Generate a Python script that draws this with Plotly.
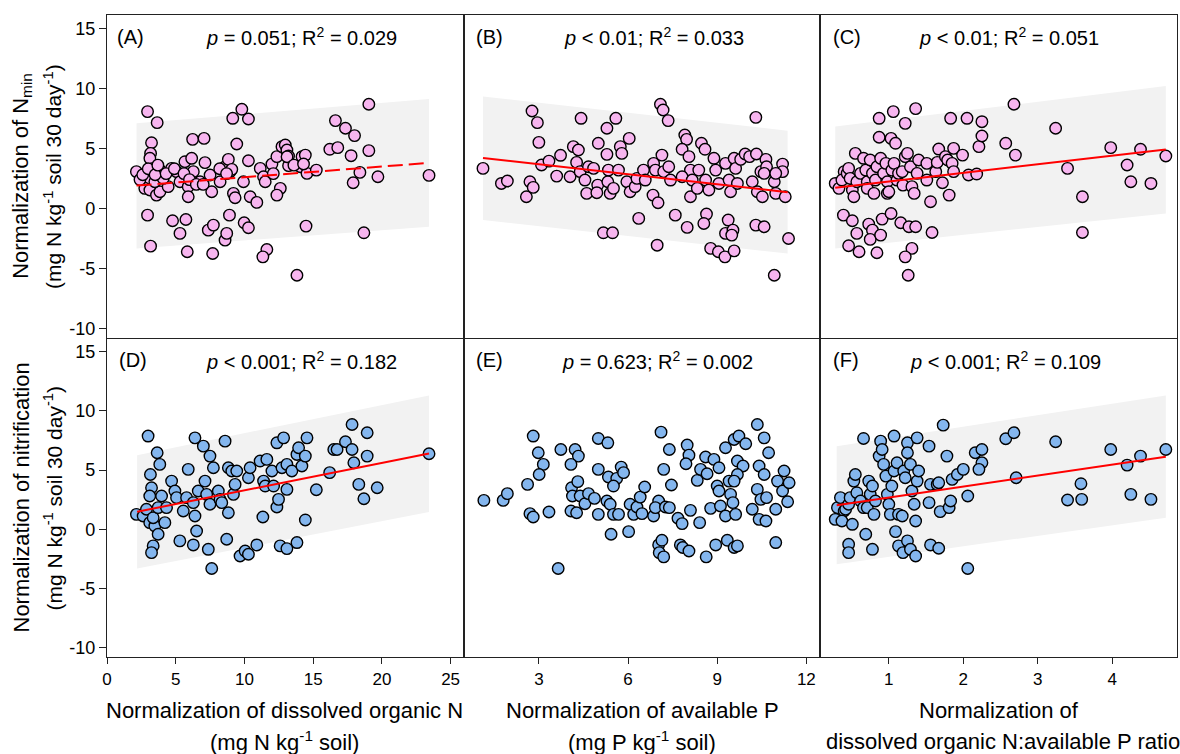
import plotly.graph_objects as go
from plotly.subplots import make_subplots

# ---------------- data ----------------
# Panel A: Nmin vs DON
a_x = [2.95,3.65,3.24,3.17,3.12,2.14,2.87,3.36,3.85,3.12,2.75,3.12,3.6,3.85,4.45,3.48,4.09,4.7,5.06,5.31,
       5.67,6.16,6.28,5.91,5.91,6.77,7.13,7.5,7.62,8.23,8.59,8.96,8.83,9.08,9.2,9.32,9.44,9.15,9.81,10.29,
       10.29,9.93,10.42,10.9,11.15,11.39,11.51,12.0,12.36,12.73,12.97,13.09,13.21,13.21,12.61,12.36,14.07,14.19,14.43,14.55,
       15.23,6.23,7.06,2.95,4.77,5.74,5.31,3.17,5.84,7.37,7.74,7.69,8.59,8.71,8.91,9.98,10.29,11.63,11.34,13.82,
       14.48,16.21,16.79,16.62,17.35,18.01,17.76,19.05,19.05,18.4,17.91,19.71,18.69,23.43,
       2.4,2.6,3.0,3.5,3.7,4.3,4.9,5.6,6.0,6.5,7.0,8.2,8.7,12.1,13.1,13.6,14.3]
a_y = [8.06,7.14,5.47,4.58,4.17,3.06,2.92,3.33,3.19,2.5,1.67,1.53,1.11,1.39,1.81,2.22,2.5,3.33,3.06,2.22,
       3.89,4.17,3.06,1.81,0.97,2.22,3.81,2.78,1.39,2.22,3.47,3.06,4.08,3.25,1.25,0.89,5.36,7.5,8.25,7.44,
       3.97,2.22,0.97,0.5,3.33,2.64,2.22,3.69,4.31,5.14,5.28,4.86,4.36,3.56,1.67,1.11,3.47,4.31,4.44,2.92,
       3.19,5.75,5.83,-0.56,-1.03,-0.92,-2.08,-3.14,-3.61,-1.81,-1.39,-3.75,-2.64,-2.08,-0.56,-1.19,-1.61,-3.42,-4.03,-5.56,
       -1.47,4.92,5.06,7.31,6.67,6.06,4.39,4.81,8.67,3.0,2.14,2.64,-2.03,2.75,
       2.4,2.8,3.3,2.8,3.6,2.9,3.3,2.9,2.4,2.0,2.0,3.3,2.9,2.9,4.3,3.6,3.7]

# Panel B: Nmin vs available P
b_x = [1.12,1.74,1.94,2.58,2.7,2.81,2.77,2.95,3.0,3.09,3.34,3.6,3.73,4.05,4.16,4.33,4.27,4.39,4.55,4.61,
       4.67,4.84,5.0,4.98,4.95,4.42,5.29,5.59,5.29,5.34,5.32,5.4,5.51,5.68,5.74,5.79,6.04,5.96,6.07,6.24,
       6.3,6.52,6.58,6.86,6.92,6.84,7.01,7.14,7.2,7.37,7.43,7.09,7.18,7.35,7.91,7.97,7.82,8.05,8.1,7.82,
       8.16,8.1,8.38,8.47,8.59,8.61,8.72,8.33,8.89,8.95,9.06,9.28,9.4,9.45,9.57,9.62,9.68,9.79,9.94,10.09,
       10.18,10.32,10.35,10.47,10.52,10.64,10.66,10.58,10.92,10.97,11.2,11.2,11.29,10.97,10.3,6.36,5.17,5.48,6.98,7.59,
       7.99,8.64,8.55,9.37,9.28,9.53,9.49,10.3,10.58,8.78,9.04,9.26,9.57,11.4,10.92]
b_y = [3.33,2.08,2.28,0.97,2.22,1.75,8.11,7.14,5.5,3.61,3.94,2.69,4.42,2.64,5.14,4.86,3.83,3.06,2.36,1.25,
       3.47,3.33,5.42,1.94,1.31,7.5,6.67,7.5,4.5,3.19,2.22,1.25,1.67,3.19,5.14,4.58,5.83,2.22,1.39,1.81,
       2.5,3.19,2.36,3.75,3.19,1.11,0.47,4.44,3.06,3.47,2.36,8.67,8.19,7.31,6.11,5.75,4.92,4.31,3.19,2.64,
       2.36,0.97,3.19,5.42,4.92,2.36,1.53,1.67,4.17,3.19,2.08,3.75,2.36,1.39,4.17,3.33,2.08,4.08,4.53,4.31,
       2.22,4.53,1.39,3.06,0.97,4.08,3.47,2.92,2.22,1.25,3.69,3.06,0.97,2.92,7.58,-0.83,-2.03,-2.03,-3.06,-0.56,
       -1.58,-0.47,-1.25,-0.97,-2.08,-1.81,-2.22,-1.39,-1.53,-3.33,-3.61,-4.03,-3.53,-2.5,-5.56]

# Panel C: Nmin vs DON:AP ratio
c_x = [0.28,0.33,0.4,0.37,0.44,0.46,0.48,0.51,0.53,0.55,0.57,0.62,0.66,0.69,0.71,0.71,0.75,0.78,0.8,0.82,
       0.84,0.89,0.93,0.96,0.98,0.98,1.0,1.04,1.07,1.11,1.13,1.18,1.19,1.22,1.25,1.29,1.31,1.34,1.38,1.4,
       1.51,1.51,1.56,1.63,1.65,1.67,1.72,1.76,1.79,1.81,1.85,1.87,1.87,1.99,2.07,2.18,2.21,2.25,2.25,1.83,
       2.05,2.57,2.7,2.68,3.24,3.4,3.98,4.2,4.38,4.72,4.25,4.52,3.6,3.6,0.87,1.06,1.36,1.22,0.87,1.03,
       1.09,0.39,0.51,0.57,0.46,0.6,0.73,0.78,0.75,0.89,0.84,0.91,1.03,1.16,1.27,1.36,1.31,1.22,1.26,1.58]
c_y = [2.08,1.67,3.06,2.36,2.92,3.33,2.5,1.53,0.97,4.58,2.22,2.92,4.17,3.19,2.22,1.67,4.03,2.92,1.25,2.36,
       3.47,4.17,2.92,3.75,2.22,1.25,1.39,3.19,3.75,2.36,2.92,3.06,1.94,4.31,4.58,3.47,1.81,1.25,2.92,4.03,
       3.75,2.36,0.56,3.06,3.83,4.94,2.14,4.31,4.03,1.11,3.75,5.0,3.06,4.44,2.78,2.86,5.14,6.03,7.22,7.5,
       7.5,5.42,4.44,8.67,6.67,3.33,5.06,3.61,4.92,4.36,2.22,2.08,0.97,-2.0,7.5,8.06,8.31,7.08,5.92,5.83,
       5.42,-0.56,-1.03,-2.08,-3.11,-3.61,-1.31,-1.81,-2.58,-2.22,-3.69,-0.89,-0.42,-1.19,-1.53,-1.53,-3.33,-4.03,-5.56,-2.0]

# Panel D: nitrification vs DON
d_x = [2.99,3.65,3.84,3.16,3.24,3.11,2.14,2.63,2.87,3.11,3.48,3.36,3.72,3.97,4.21,3.72,3.36,3.24,4.33,4.7,
       4.94,5.06,5.55,5.79,5.91,6.28,6.4,6.52,5.3,6.28,6.64,6.4,7.01,7.13,7.49,7.74,7.25,7.49,7.37,7.62,
       8.1,8.22,8.35,8.59,8.71,8.83,8.83,9.08,9.2,9.32,9.44,9.68,10.05,10.29,10.9,10.29,10.41,11.14,11.63,11.39,
       11.51,12.0,12.12,12.36,12.36,12.48,12.73,12.85,13.09,13.09,13.45,13.82,13.94,14.18,14.43,14.55,14.43,12.6,13.09,13.82,
       11.34,15.23,16.2,16.5,16.74,17.35,17.83,17.96,17.83,18.93,18.93,18.32,18.69,19.66,23.43]
d_y = [7.87,6.46,5.48,4.63,3.51,2.81,1.26,1.12,1.69,0.56,0.28,0.98,1.83,2.81,0.56,-0.42,-1.4,-1.97,1.83,4.07,
       3.23,2.67,1.54,2.67,5.06,2.25,1.12,-0.14,-0.98,-1.32,3.23,7.72,7.02,4.07,6.18,5.2,2.95,2.11,-1.69,-3.31,
       3.23,2.53,2.25,7.44,-0.84,1.4,5.2,4.92,2.95,3.79,4.92,-2.25,-1.83,-2.11,-1.32,4.35,5.2,5.76,5.9,4.07,
       3.65,4.92,3.65,1.88,7.3,2.53,5.2,7.72,3.37,5.48,4.92,6.32,6.88,5.34,6.18,7.72,0.79,-1.4,-1.63,-1.12,
       1.04,3.34,4.78,6.74,6.74,7.39,6.74,5.62,8.85,8.15,6.18,3.79,2.58,3.51,6.38]

# Panel E: nitrification vs available P
e_x = [1.15,1.8,1.94,2.62,2.7,2.81,3.34,2.81,2.98,3.15,3.01,3.74,4.22,4.33,4.08,4.1,4.31,4.13,4.39,4.55,
       4.67,4.87,4.08,4.27,5.0,5.0,5.32,5.0,5.34,5.62,5.77,5.85,5.51,5.29,5.4,5.51,5.68,5.43,6.02,6.07,
       6.19,6.3,6.41,6.56,6.47,6.86,7.03,6.92,7.26,7.39,7.46,7.11,7.39,7.2,7.68,7.82,7.99,8.05,7.95,8.1,
       8.41,8.33,8.44,8.61,8.66,8.89,9.06,8.78,9.0,9.06,9.11,9.28,9.28,9.4,9.45,9.53,9.62,9.57,9.68,9.73,
       9.96,9.87,9.68,9.57,10.18,10.35,10.58,10.41,10.35,10.47,10.41,10.64,10.58,10.66,10.73,10.97,11.03,11.25,11.2,11.42,
       11.37,7.03,7.14,7.05,7.2,7.76,7.84,8.05,8.63,8.95,9.34,9.57,9.68,10.97,3.65]
e_y = [2.44,2.44,3.01,3.79,1.32,1.04,1.46,7.87,6.46,5.48,4.63,6.74,6.74,6.18,5.48,3.51,4.02,2.81,2.81,2.16,
       3.01,2.61,1.54,1.4,1.26,7.67,7.3,5.06,4.41,4.3,5.25,4.78,3.65,2.39,2.11,1.26,1.26,-0.42,-0.2,2.11,
       1.26,1.88,2.72,3.57,1.32,1.12,2.39,1.83,1.88,1.83,3.74,8.2,6.74,5.06,0.93,0.48,7.11,6.26,5.53,1.6,
       0.56,4.13,5.06,6.1,4.69,5.9,5.2,1.77,3.65,3.23,1.97,1.12,6.88,4.07,2.95,2.25,1.26,7.58,5.76,7.87,
       7.22,5.34,4.63,4.07,1.69,8.85,7.72,5.34,3.37,2.53,0.84,0.7,4.63,2.67,6.46,1.69,4.07,4.92,3.23,3.93,
       2.33,-1.32,-0.93,-1.97,-2.33,-1.32,-1.54,-1.83,-2.33,-1.32,-0.93,-1.54,-1.4,-1.12,-3.31]

# Panel F: nitrification vs DON:AP ratio
f_x = [0.28,0.31,0.35,0.4,0.37,0.42,0.46,0.48,0.51,0.53,0.55,0.57,0.62,0.66,0.71,0.73,0.75,0.78,0.8,0.82,
       0.87,0.89,0.91,0.93,0.96,0.98,1.0,1.02,1.04,1.07,1.07,1.11,1.13,1.18,1.2,1.22,1.25,1.25,1.29,1.31,
       1.34,1.36,1.38,1.38,1.4,1.54,1.54,1.56,1.65,1.67,1.69,1.78,1.81,1.83,1.85,1.92,2.0,2.06,2.16,2.25,
       2.25,2.21,0.66,1.73,2.57,2.68,2.71,3.24,3.4,3.58,3.59,3.98,4.2,4.38,4.72,4.25,4.52,0.46,0.46,0.69,
       0.78,1.09,1.13,1.19,1.25,1.29,1.36,1.56,1.67,2.06]
f_y = [0.84,1.83,2.67,1.54,0.7,1.69,2.11,2.67,0.42,4.07,4.63,3.09,2.39,1.83,1.83,4.07,2.95,3.65,1.26,2.39,
       6.18,7.44,6.74,5.48,4.49,2.95,2.11,1.26,3.65,4.92,7.87,5.62,1.26,1.12,4.92,4.35,7.3,6.46,5.48,3.23,
       2.11,0.7,7.72,4.07,4.92,7.02,2.25,3.79,3.79,3.93,1.49,6.18,1.83,2.39,4.21,4.63,5.06,2.81,6.46,6.74,
       5.62,5.06,7.67,8.79,7.64,8.15,4.35,7.39,2.47,3.85,2.53,6.74,5.42,6.18,6.74,2.95,2.53,-1.26,-1.97,-0.42,
       -1.69,-0.2,-1.4,-1.97,-0.98,-1.69,-2.25,-1.32,-1.6,-3.31]

# regression lines and prediction bands (endpoints)
fit_x = {"A": [2.15, 23.43], "B": [1.12, 11.37], "C": [0.28, 4.72], "D": [2.19, 23.43], "F": [0.3, 4.72]}
fit_y = {"A": [1.90, 3.79], "B": [4.20, 1.35], "C": [1.73, 4.90], "D": [1.48, 6.40], "F": [2.03, 6.13]}
band_hi = {"A": [7.08, 9.1], "B": [9.31, 6.47], "C": [6.81, 10.19], "D": [6.26, 11.29], "F": [7.02, 11.29]}
band_lo = {"A": [-3.33, -1.53], "B": [-0.97, -3.75], "C": [-3.33, -0.42], "D": [-3.31, 1.46], "F": [-2.95, 0.98]}

panel_labels = ["(A)", "(B)", "(C)", "(D)", "(E)", "(F)"]
stats = ["<i>p</i> = 0.051; R<sup>2</sup> = 0.029",
         "<i>p</i> < 0.01; R<sup>2</sup> = 0.033",
         "<i>p</i> < 0.01; R<sup>2</sup> = 0.051",
         "<i>p</i> < 0.001; R<sup>2</sup> = 0.182",
         "<i>p</i> = 0.623; R<sup>2</sup> = 0.002",
         "<i>p</i> < 0.001; R<sup>2</sup> = 0.109"]
y_ticks = [-10, -5, 0, 5, 10, 15]
y_ticktext = ["-10", "-5", "0", "5", "10", "15"]
x_ticks_A = [0, 5, 10, 15, 20, 25]
x_ticks_B = [3, 6, 9, 12]
x_ticks_C = [1, 2, 3, 4]

# ---------------- figure ----------------
FONT = "Arial, Liberation Sans, Helvetica, sans-serif"
PINK = "#f7b5ef"
BLUE = "#84b6ee"
BAND = "#f2f2f2"

fig = make_subplots(rows=2, cols=3, horizontal_spacing=0, vertical_spacing=0)

panels = [
    ("A", a_x, a_y, PINK, 1, 1, "dash"),
    ("B", b_x, b_y, PINK, 1, 2, "solid"),
    ("C", c_x, c_y, PINK, 1, 3, "solid"),
    ("D", d_x, d_y, BLUE, 2, 1, "solid"),
    ("E", e_x, e_y, BLUE, 2, 2, None),
    ("F", f_x, f_y, BLUE, 2, 3, "solid"),
]

for key, xs, ys, col, r, c, dash in panels:
    if key in band_hi:
        bx = fit_x[key]
        fig.add_trace(go.Scatter(
            x=[bx[0], bx[1], bx[1], bx[0], bx[0]],
            y=[band_lo[key][0], band_lo[key][1], band_hi[key][1], band_hi[key][0], band_lo[key][0]],
            fill="toself", fillcolor=BAND, mode="lines", line=dict(width=0, color=BAND),
            hoverinfo="skip", showlegend=False), row=r, col=c)
    fig.add_trace(go.Scatter(
        x=xs, y=ys, mode="markers",
        marker=dict(size=11.5, color=col, line=dict(color="black", width=1.4)),
        showlegend=False), row=r, col=c)
    if key in fit_x:
        fig.add_trace(go.Scatter(
            x=fit_x[key], y=fit_y[key], mode="lines",
            line=dict(color="#ff0000", width=2, dash="15px,6px" if dash == "dash" else "solid"),
            showlegend=False), row=r, col=c)

xr = {1: [0, 25.95], 2: [0.47, 12.47], 3: [0.08, 4.87]}
xt = {1: x_ticks_A, 2: x_ticks_B, 3: x_ticks_C}
axis_common = dict(showline=True, linecolor="#222222", linewidth=1.2, mirror=True,
                   showgrid=False, zeroline=False)

top_dom = [0.497, 1.0]
bot_dom = [0.0, 0.496]
for r in (1, 2):
    for c in (1, 2, 3):
        fig.update_xaxes(range=xr[c], tickvals=xt[c],
                         ticks="outside" if r == 2 else "", ticklen=6, tickwidth=1.2,
                         tickcolor="#222222",
                         tickfont=dict(family=FONT, size=17, color="black"),
                         showticklabels=(r == 2), row=r, col=c, **axis_common)
        fig.update_yaxes(range=[-10.78, 16.1], tickvals=y_ticks, ticktext=y_ticktext,
                         ticks="outside" if c == 1 else "", ticklen=7, tickwidth=1.2,
                         tickcolor="#222222",
                         tickfont=dict(family=FONT, size=18, color="black"),
                         showticklabels=(c == 1), domain=top_dom if r == 1 else bot_dom,
                         row=r, col=c, **axis_common)

annotations = []
label_x = [0.022, 0.028, 0.029, 0.027, 0.028, 0.029]
stat_x = [0.546, 0.534, 0.528, 0.546, 0.544, 0.519]
for i in range(6):
    axn = "" if i == 0 else str(i + 1)
    annotations.append(dict(text=panel_labels[i], xref=f"x{axn} domain", yref=f"y{axn} domain",
                            x=label_x[i], y=0.932, xanchor="left", yanchor="middle", showarrow=False,
                            font=dict(family=FONT, size=20, color="black")))
    annotations.append(dict(text=stats[i], xref=f"x{axn} domain", yref=f"y{axn} domain",
                            x=stat_x[i], y=0.932, xanchor="center", yanchor="middle", showarrow=False,
                            font=dict(family=FONT, size=20, color="black")))

# y-axis titles
ytitles = [("Normalization of N<sub>min</sub>", -0.0797, 0.749, 22),
           ("(mg N kg<sup>-1</sup> soil 30 day<sup>-1</sup>)", -0.0507, 0.749, 21),
           ("Normalization of nitrification", -0.0797, 0.248, 22),
           ("(mg N kg<sup>-1</sup> soil 30 day<sup>-1</sup>)", -0.0507, 0.248, 21)]
for t, x, y, s in ytitles:
    annotations.append(dict(text=t, xref="paper", yref="paper", x=x, y=y, textangle=-90,
                            xanchor="center", yanchor="middle", showarrow=False,
                            font=dict(family=FONT, size=s, color="black")))

# x-axis titles
xtitles = [("Normalization of dissolved organic N", 0.166, -0.0833),
           ("(mg N kg<sup>-1</sup> soil)", 0.166, -0.1315),
           ("Normalization of available P", 0.5, -0.0833),
           ("(mg P kg<sup>-1</sup> soil)", 0.5, -0.1315),
           ("Normalization of", 0.834, -0.0833),
           ("dissolved organic N:available P ratio", 0.837, -0.1315)]
for t, x, y in xtitles:
    annotations.append(dict(text=t, xref="paper", yref="paper", x=x, y=y,
                            xanchor="center", yanchor="middle", showarrow=False,
                            font=dict(family=FONT, size=22, color="black")))

fig.update_layout(width=1180, height=754, autosize=False,
                  margin=dict(l=107, r=3, t=15, b=97),
                  paper_bgcolor="white", plot_bgcolor="white",
                  annotations=annotations, showlegend=False)

fig.write_html("out.html")
